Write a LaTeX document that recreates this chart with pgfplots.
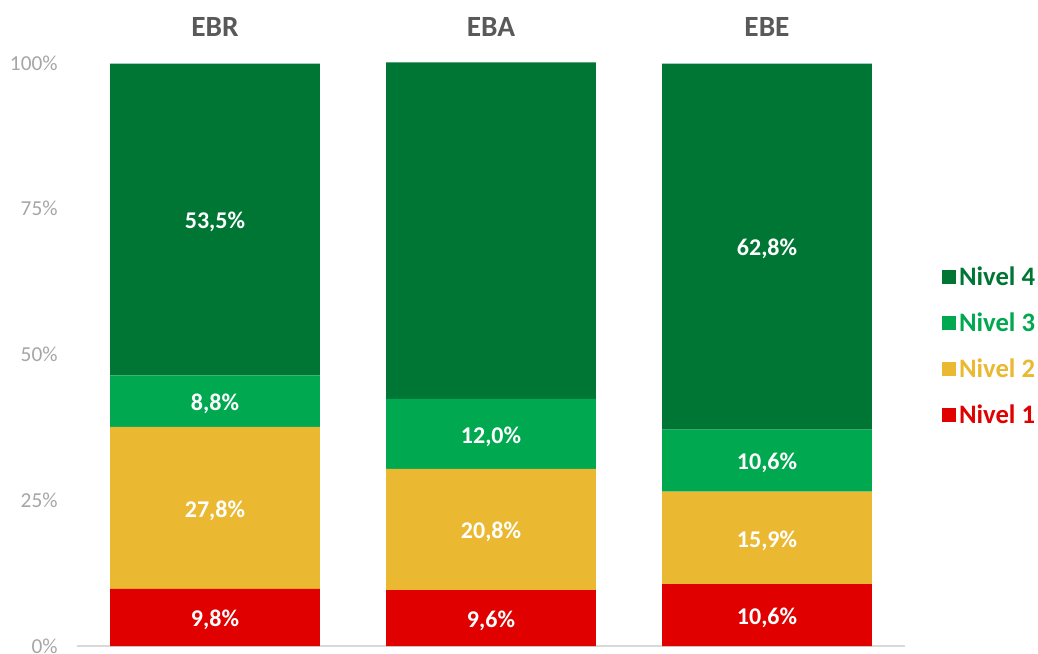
\documentclass[border=0pt]{standalone}
\usepackage{pgfplots}
\pgfplotsset{compat=1.18}
\usepackage{fontspec}
\setmainfont{Carlito}
\definecolor{nivcuatro}{RGB}{0,118,53}
\definecolor{nivtres}{RGB}{0,168,80}
\definecolor{nivdos}{RGB}{234,184,49}
\definecolor{nivuno}{RGB}{224,0,0}
\definecolor{titulo}{RGB}{89,89,89}
\definecolor{gristick}{RGB}{166,166,166}
\definecolor{linea}{RGB}{217,217,217}

\begin{document}
\begin{tikzpicture}[x=0.75pt,y=0.75pt]
\useasboundingbox (0,0) rectangle (1038,653);
\begin{axis}[
    at={(57.75pt,5.25pt)}, anchor=south west,
    scale only axis, width=621pt, height=437.25pt,
    ybar stacked, bar width=0.76,
    xmin=-0.5, xmax=2.5, ymin=0, ymax=100,
    axis line style={draw=none},
    tick style={draw=none},
    xtick={0,1,2}, xticklabels={EBR,EBA,EBE},
    xticklabel pos=upper,
    xticklabel style={font=\fontsize{22}{25}\selectfont\bfseries, text=titulo, yshift=16pt},
    ytick={0,25,50,75,100},
    yticklabel={\pgfmathprintnumber{\tick}\%},
    yticklabel style={font=\fontsize{16}{19}\selectfont, text=gristick, xshift=-11pt},
    /pgf/number format/assume math mode=true,
    extra y ticks={0}, extra y tick labels={},
    extra y tick style={grid=major, major grid style={draw=linea, line width=1.5pt}},
    nodes near coords={\pgfmathprintnumber[fixed,fixed zerofill,precision=1,use comma]{\pgfplotspointmeta}\%},
    every node near coord/.append style={
        anchor=center, yshift=-2pt, text=white,
        font=\fontsize{18}{21}\selectfont\bfseries},
    legend style={at={(1.04,0.515)}, anchor=west, draw=none, fill=none,
        row sep=15pt, font=\fontsize{20}{23}\selectfont\bfseries,
        cells={anchor=west}},
    legend image code/.code={\path[#1,draw=none] (0pt,-5.25pt) rectangle (10.5pt,5.25pt);},
    reverse legend,
]
% Nivel 1
\addplot[fill=nivuno, draw=none] coordinates {(0,9.8) (1,9.6) (2,10.6)};
\addlegendentry{\textcolor{nivuno}{Nivel 1}}
% Nivel 2
\addplot[fill=nivdos, draw=none] coordinates {(0,27.8) (1,20.8) (2,15.9)};
\addlegendentry{\textcolor{nivdos}{Nivel 2}}
% Nivel 3
\addplot[fill=nivtres, draw=none] coordinates {(0,8.8) (1,12.0) (2,10.6)};
\addlegendentry{\textcolor{nivtres}{Nivel 3}}
% Nivel 4
\addplot[fill=nivcuatro, draw=none] coordinates {(0,53.5) (1,57.7) (2,62.8)};
\addlegendentry{\textcolor{nivcuatro}{Nivel 4}}
\end{axis}
\end{tikzpicture}
\end{document}
